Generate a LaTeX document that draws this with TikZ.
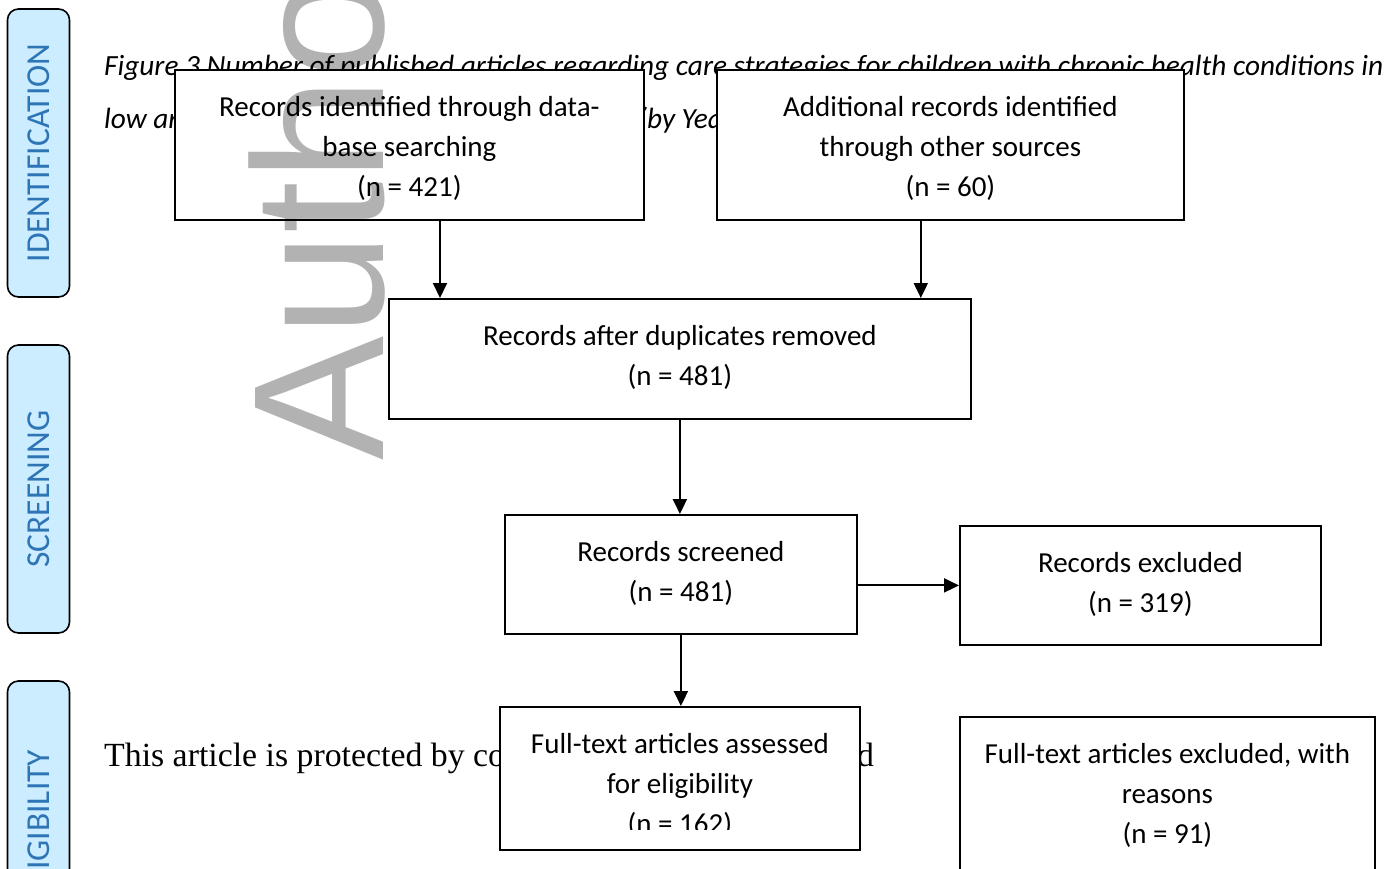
\documentclass[tikz,border=0pt]{standalone}
\usepackage{fontspec}
\setmainfont{Carlito}
\newfontfamily\wmfont{Liberation Sans}
\newfontfamily\notefont{Liberation Serif}
\usetikzlibrary{arrows.meta,positioning,calc}

\definecolor{tabfill}{RGB}{204,236,255}
\definecolor{tabtext}{RGB}{46,117,182}
\definecolor{wmgray}{RGB}{178,178,178}

\begin{document}
\begin{tikzpicture}[x=1pt,y=-1pt,
  every node/.style={inner sep=0pt},
  boxtext/.style={align=center, font=\fontsize{29}{40}\selectfont},
  twoline/.style={text height=87pt},
  threeline/.style={text height=127pt},
  flowbox/.style={boxtext, draw, fill=white, line width=1.8pt},
  phase/.style={draw, fill=tabfill, line width=1.6pt, rounded corners=11pt, rotate=90,
    minimum width=288pt, minimum height=62pt, text=tabtext, font=\fontsize{33.5}{40}\selectfont},
  flow/.style={-{Triangle[length=15pt,width=14pt]}, line width=2pt},
  caption/.style={anchor=base west, font=\fontsize{29.3}{40}\selectfont\itshape}]

  \useasboundingbox (0,0) rectangle (1395,868);
  \clip (0,0) rectangle (1395,868);
  \fill[white] (0,0) rectangle (1395,868);

  % phase tabs
  \node[phase] (ident) at (38.5,153) {IDENTIFICATION};
  \node[phase] (screen) at (38.5,489) {SCREENING};
  \node[phase] (eligtab) at (38.5,825) {ELIGIBILITY};

  % page text behind the chart
  \node[caption] (capA) at (104,75) {Figure 3 Number of published articles regarding care strategies for children with chronic health conditions in};
  \node[caption] (capB) at (104,128) {low and middle income countries};
  \node[caption] (capC) at (638,128) {(by Year)};
  \node[anchor=base west, font=\notefont\fontsize{33.8}{40}\selectfont] (notice) at (104,766)
    {This article is protected by copyright. All rights reserved};

  % flow boxes
  \node[flowbox, threeline, anchor=north west, minimum width=469pt, text depth=23pt] (dbsearch) at (174,69)
    {Records identified through data-\\base searching\\(n = 421)};
  \node[flowbox, threeline, anchor=north west, minimum width=467pt, text depth=23pt] (othersrc) at (716,69)
    {Additional records identified\\through other sources\\(n = 60)};
  \node[flowbox, twoline, anchor=north west, minimum width=582pt, text depth=33pt] (dedup) at (388,298)
    {Records after duplicates removed\\(n = 481)};
  \node[flowbox, twoline, anchor=north west, minimum width=352pt, text depth=32pt] (screened) at (504,514)
    {Records screened\\(n = 481)};
  \node[flowbox, twoline, anchor=north west, minimum width=361pt, text depth=32pt] (excluded) at (959,525)
    {Records excluded\\(n = 319)};
  \node[flowbox, anchor=north west, minimum width=360pt, minimum height=143pt] (eligible) at (499,706) {};
  \begin{scope}
    \clip (eligible.north west) rectangle ([yshift=21pt]eligible.south east);
    \node[boxtext, threeline, anchor=north] (eligtext) at (eligible.north)
      {Full-text articles assessed\\for eligibility\\(n = 162)};
  \end{scope}
  \node[flowbox, threeline, anchor=north west, minimum width=415pt, text depth=57pt] (ftexcl) at (959,716)
    {Full-text articles excluded, with\\reasons\\(n = 91)};

  % connectors
  \coordinate (inL) at ($(dedup.north west)+(52,0)$);
  \coordinate (inR) at ($(dedup.north east)+(-51,0)$);
  \draw[flow] (inL |- dbsearch.south) -- (inL);
  \draw[flow] (inR |- othersrc.south) -- (inR);
  \draw[flow] (dedup.south) -- (dedup.south |- screened.north);
  \draw[flow] (screened.east |- excluded.west) -- (excluded.west);
  \draw[flow] (screened.south) -- (screened.south |- eligible.north);

  % watermark
  \begin{scope}[blend mode=multiply]
    \node[rotate=90, anchor=base west, text=wmgray, font=\wmfont\fontsize{186}{186}\selectfont]
      (wmark) at (383,461) {Author Manuscript};
  \end{scope}
\end{tikzpicture}
\end{document}
